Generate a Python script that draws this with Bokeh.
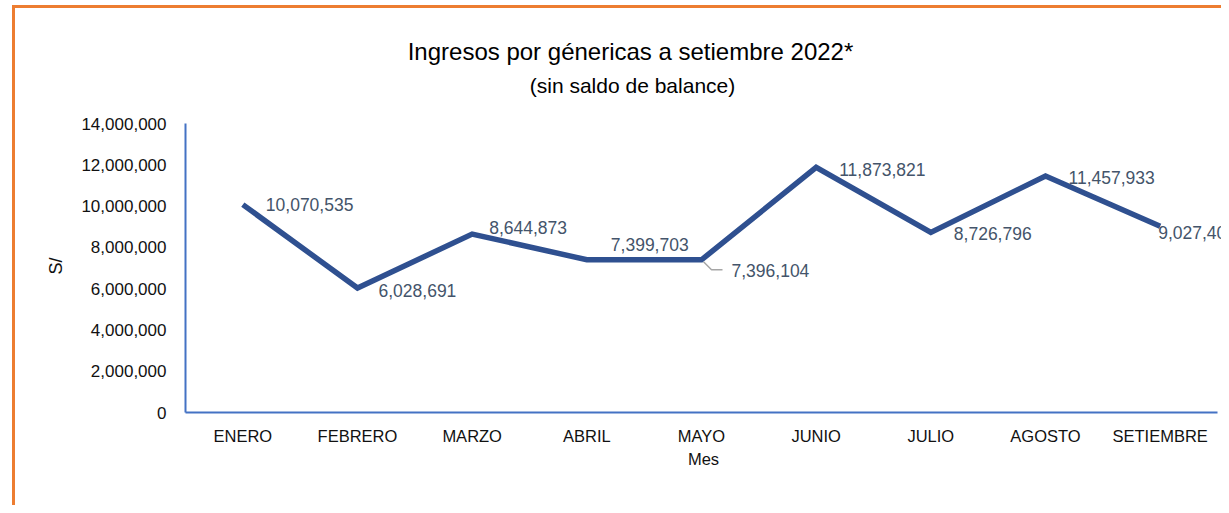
from bokeh.plotting import figure
from bokeh.models import (Range1d, FixedTicker, NumeralTickFormatter, ColumnDataSource,
                          LabelSet, Label, Title)
from bokeh.core.properties import value
from bokeh.embed import file_html
from bokeh.resources import INLINE

# ---- data ----
months = ["ENERO", "FEBRERO", "MARZO", "ABRIL", "MAYO", "JUNIO", "JULIO", "AGOSTO", "SETIEMBRE"]
ingresos = [10070535, 6028691, 8644873, 7399703, 7396104, 11873821, 8726796, 11457933, 9027400]
y_ticks = [0, 2000000, 4000000, 6000000, 8000000, 10000000, 12000000, 14000000]
title_text = "Ingresos por génericas a setiembre 2022*"
subtitle_text = "(sin saldo de balance)"
x_label = "Mes"
y_label = "S/"

# label placement (pixels, relative to each point)
lbl_dx = [23, 21, 17, 24, 30, 23, 23, 23, -2]
lbl_dy = [0, -2, 7, 15, -11, -2, -1, -2, -6]

FONT = "Liberation Sans"
W, H = 1221, 505
ML, MB = 185, 93
AXIS_TOP = 123             # pixel row of the 14,000,000 level
PLOT_RIGHT = 1217          # where the category axis ends
X0, X1 = -0.5, len(months) - 0.5
Y0, Y1 = 0, 14000000
px_x = (PLOT_RIGHT - ML) / (X1 - X0)
px_y = (H - AXIS_TOP - MB) / (Y1 - Y0)
X1_ext = X1 + (W - PLOT_RIGHT) / px_x   # frame reaches the canvas edge
Y1_ext = Y1 + AXIS_TOP / px_y           # frame reaches the canvas top (room for titles)

def sx(px):   # page column -> data x
    return X0 + (px - ML) / px_x

def sy(py):   # page row -> data y
    return Y0 + (H - MB - py) / px_y

xs = list(range(len(months)))
src = ColumnDataSource(dict(
    x=xs, y=ingresos,
    txt=[f"{v:,}" for v in ingresos],
    dx=lbl_dx, dy=lbl_dy,
))

p = figure(width=W, height=H, x_range=Range1d(X0, X1_ext), y_range=Range1d(Y0, Y1_ext),
           output_backend="svg", toolbar_location=None,
           min_border_left=ML, min_border_right=0, min_border_top=0, min_border_bottom=MB)
p.styles = {
    "background": "linear-gradient(#ED7D31,#ED7D31) 12px 5px / 3px 700px no-repeat, "
                  "linear-gradient(#ED7D31,#ED7D31) 12px 5px / 1400px 3px no-repeat, #ffffff"
}
p.border_fill_color = None
p.background_fill_color = None
p.outline_line_color = None
p.xgrid.grid_line_color = None
p.ygrid.grid_line_color = None

p.line("x", "y", source=src, line_color="#2F5090", line_width=5.5, line_join="miter")

# leader line for MAYO label
i = months.index("MAYO")
p.line([xs[i] + 2 / px_x, xs[i] + 10 / px_x, xs[i] + 21 / px_x],
       [ingresos[i] - 2 / px_y, ingresos[i] - 10 / px_y, ingresos[i] - 10 / px_y],
       line_color="#A6A6A6", line_width=1.5)

labels = LabelSet(x="x", y="y", text="txt", source=src, x_offset="dx", y_offset="dy",
                  text_align="left", text_baseline="middle",
                  text_font=value(FONT), text_font_size="17.5px", text_color="#44546A")
p.add_layout(labels)

# axes
for ax in (p.xaxis[0], p.yaxis[0]):
    ax.axis_line_color = "#4472C4"
    ax.axis_line_width = 2
    ax.major_tick_line_color = None
    ax.minor_tick_line_color = None
    ax.major_tick_out = 0
    ax.major_tick_in = 0
    ax.major_label_text_font = FONT
    ax.major_label_text_color = "#111111"
    ax.axis_label_text_font = FONT
    ax.axis_label_text_font_style = "normal"
    ax.axis_label_text_color = "#111111"

p.yaxis.bounds = (Y0, Y1)
p.yaxis.ticker = FixedTicker(ticks=y_ticks)
p.yaxis.formatter = NumeralTickFormatter(format="0,0")
p.yaxis.major_label_text_font_size = "17px"
p.yaxis.major_label_standoff = 19

p.xaxis.bounds = (X0, X1)
p.xaxis.ticker = FixedTicker(ticks=xs)
p.xaxis.major_label_overrides = {k: m for k, m in zip(xs, months)}
p.xaxis.major_label_text_font_size = "16.5px"
p.xaxis.major_label_standoff = 14
p.xaxis.axis_label = x_label
p.xaxis.axis_label_text_font_size = "16.5px"
p.xaxis.axis_label_standoff = 2

# y-axis caption, centred on the 0..14M span
p.add_layout(Title(text=y_label, align="left", offset=H - MB - 274, standoff=26,
                   text_font=FONT, text_font_size="18px", text_font_style="normal",
                   text_color="#111111"), "left")

# titles
p.add_layout(Label(x=sx(630), y=sy(51), text=title_text, text_align="center",
                   text_baseline="alphabetic", text_font=FONT, text_font_size="24px",
                   text_color="#000000"))
p.add_layout(Label(x=sx(632), y=sy(85), text=subtitle_text, text_align="center",
                   text_baseline="alphabetic", text_font=FONT, text_font_size="21px",
                   text_color="#000000"))

open("out.html", "w").write(file_html(p, INLINE))
